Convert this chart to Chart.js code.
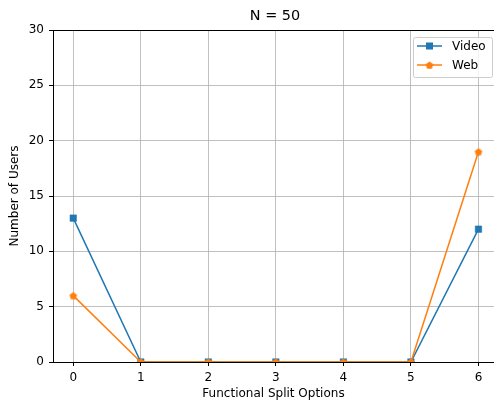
<!DOCTYPE html>
<html><head><meta charset="utf-8">
<script src="https://cdn.jsdelivr.net/npm/chart.js@4"></script>
<style>html,body{margin:0;padding:0;overflow:hidden;background:#fff;width:494px;height:401px}</style>
</head><body>
<canvas id="c" width="494" height="401" style="width:494px;height:401px;display:block"></canvas>
<script>
const categories = [0, 1, 2, 3, 4, 5, 6];
const videoValues = [13, 0, 0, 0, 0, 0, 12];
const webValues = [6, 0, 0, 0, 0, 0, 19];
const yTicks = [0, 5, 10, 15, 20, 25, 30];
const xMin = -0.3, xMax = 6.23; // the reference figure is cropped just before the 6.3 edge
const titleText = 'N = 50';
const xTitle = 'Functional Split Options';
const yTitle = 'Number of Users';
const BLUE = '#1f77b4', ORANGE = '#ff7f0e';
const FONT = "'DejaVu Sans', sans-serif";

function pentagon(r, color) {
  const s = Math.ceil(r * 2 + 2);
  const cv = document.createElement('canvas');
  cv.width = s; cv.height = s;
  const g = cv.getContext('2d');
  g.fillStyle = color;
  g.beginPath();
  for (let i = 0; i < 5; i++) {
    const a = -Math.PI / 2 + i * 2 * Math.PI / 5;
    const px = s / 2 + r * Math.cos(a), py = s / 2 + r * Math.sin(a) + 0.4;
    if (i === 0) g.moveTo(px, py); else g.lineTo(px, py);
  }
  g.closePath(); g.fill();
  return cv;
}
const pent = pentagon(4, ORANGE);

const extras = {
  id: 'extras',
  afterDraw(chart) {
    const ctx = chart.ctx, a = chart.chartArea;
    ctx.save();
    ctx.strokeStyle = '#000'; ctx.lineWidth = 1;
    ctx.beginPath(); ctx.moveTo(a.left, a.top + 0.5); ctx.lineTo(a.right, a.top + 0.5); ctx.stroke();
    ctx.fillStyle = '#000'; ctx.font = '14.4px ' + FONT;
    ctx.textAlign = 'center'; ctx.textBaseline = 'middle';
    ctx.fillText(titleText, 275, 16);
    // legend
    const bx = 413.5, by = 37.5, bw = 79, bh = 40;
    ctx.fillStyle = 'rgba(255,255,255,0.8)';
    ctx.strokeStyle = '#cccccc'; ctx.lineWidth = 1;
    ctx.beginPath();
    if (ctx.roundRect) ctx.roundRect(bx, by, bw, bh, 2); else ctx.rect(bx, by, bw, bh);
    ctx.fill(); ctx.stroke();
    const items = [[BLUE, 'Video', 46, 'sq'], [ORANGE, 'Web', 65, 'pent']];
    ctx.font = '12px ' + FONT; ctx.textAlign = 'left';
    for (const [col, txt, y, m] of items) {
      ctx.strokeStyle = col; ctx.lineWidth = 1.5;
      ctx.beginPath(); ctx.moveTo(417, y); ctx.lineTo(442, y); ctx.stroke();
      ctx.fillStyle = col;
      if (m === 'sq') ctx.fillRect(429.5 - 3.5, y - 3.5, 7, 7);
      else ctx.drawImage(pent, 429.5 - pent.width / 2, y - pent.height / 2);
      ctx.fillStyle = '#000';
      ctx.fillText(txt, 452, y + 0.5);
    }
    ctx.restore();
  }
};

new Chart(document.getElementById('c'), {
  type: 'line',
  data: {
    datasets: [
      { label: 'Video', data: categories.map((x, i) => ({x, y: videoValues[i]})),
        borderColor: BLUE, backgroundColor: BLUE, borderWidth: 1.5,
        pointStyle: 'rect', pointRadius: 4.6, pointBorderWidth: 0.5, pointBorderColor: BLUE, pointBackgroundColor: BLUE,
        order: 2, clip: 0 },
      { label: 'Web', data: categories.map((x, i) => ({x, y: webValues[i]})),
        borderColor: ORANGE, backgroundColor: ORANGE, borderWidth: 1.5,
        pointStyle: pent, pointRadius: 4, order: 1, clip: 0 }
    ]
  },
  options: {
    responsive: false, animation: false,
    layout: { autoPadding: false, padding: { top: 30, right: 0, left: 0, bottom: 0 } },
    plugins: { legend: { display: false }, title: { display: false }, tooltip: { enabled: false } },
    scales: {
      x: {
        type: 'linear', min: xMin, max: xMax,
        afterBuildTicks(s) { s.ticks = categories.map(v => ({value: v})); },
        afterFit(s) { s.height = 39; s.paddingLeft = 0; s.paddingRight = 0; },
        grid: { color: '#b0b0b0', lineWidth: 0.8, tickColor: '#000', tickLength: 4, tickWidth: 1 },
        border: { display: true, color: '#000', width: 1 },
        ticks: { color: '#000', font: { family: FONT, size: 12 }, padding: 5, maxRotation: 0 },
        title: { display: true, text: xTitle, color: '#000', font: { family: FONT, size: 12 }, padding: { top: 2, bottom: 0 } }
      },
      y: {
        min: 0, max: 30,
        afterBuildTicks(s) { s.ticks = yTicks.map(v => ({value: v})); },
        afterFit(s) { s.width = 53; s.paddingTop = 0; s.paddingBottom = 0; },
        grid: { color: '#b0b0b0', lineWidth: 0.8, tickColor: '#000', tickLength: 4, tickWidth: 1 },
        border: { display: true, color: '#000', width: 1 },
        ticks: { color: '#000', font: { family: FONT, size: 12 }, padding: 5 },
        title: { display: true, text: yTitle, color: '#000', font: { family: FONT, size: 12 }, padding: { top: 8, bottom: 0 } }
      }
    }
  },
  plugins: [extras]
});
</script>
</body></html>
